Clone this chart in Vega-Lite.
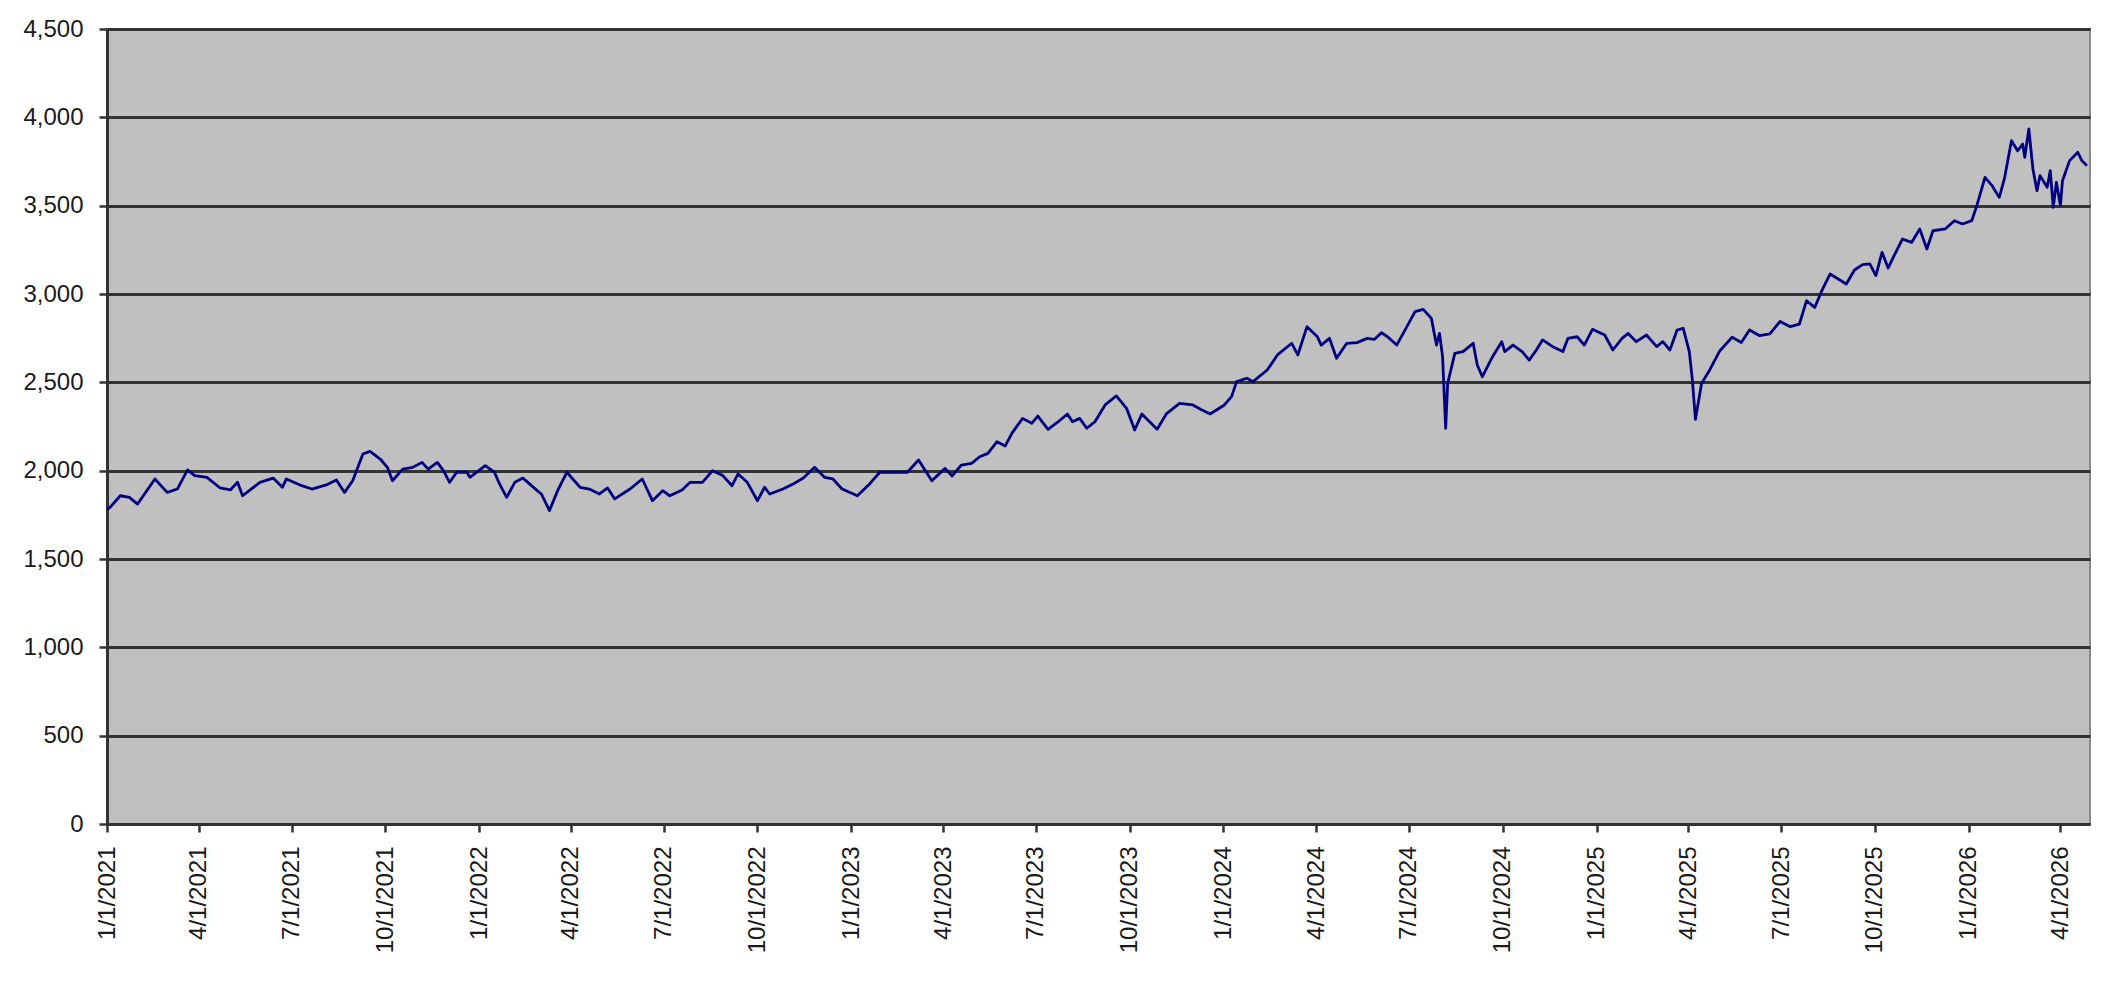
{
  "$schema": "https://vega.github.io/schema/vega-lite/v6.json",
  "width": 1983,
  "height": 795,
  "autosize": "none",
  "padding": {"left": 107, "top": 29, "right": 18, "bottom": 170},
  "background": "white",
  "data": {
    "values": [
      {"d": "2021-01-01", "v": 1780}, {"d": "2021-01-04", "v": 1792}, {"d": "2021-01-14", "v": 1858}, {"d": "2021-01-23", "v": 1849},
      {"d": "2021-01-31", "v": 1811}, {"d": "2021-02-17", "v": 1953}, {"d": "2021-03-01", "v": 1877}, {"d": "2021-03-11", "v": 1896},
      {"d": "2021-03-21", "v": 2004}, {"d": "2021-03-28", "v": 1972}, {"d": "2021-04-09", "v": 1962}, {"d": "2021-04-22", "v": 1902},
      {"d": "2021-05-02", "v": 1891}, {"d": "2021-05-09", "v": 1934}, {"d": "2021-05-14", "v": 1858}, {"d": "2021-05-31", "v": 1934},
      {"d": "2021-06-13", "v": 1958}, {"d": "2021-06-22", "v": 1906}, {"d": "2021-06-26", "v": 1953}, {"d": "2021-07-11", "v": 1915},
      {"d": "2021-07-21", "v": 1896}, {"d": "2021-08-05", "v": 1921}, {"d": "2021-08-14", "v": 1947}, {"d": "2021-08-22", "v": 1877},
      {"d": "2021-08-30", "v": 1943}, {"d": "2021-09-09", "v": 2094}, {"d": "2021-09-16", "v": 2109}, {"d": "2021-09-26", "v": 2066},
      {"d": "2021-10-03", "v": 2019}, {"d": "2021-10-08", "v": 1943}, {"d": "2021-10-18", "v": 2009}, {"d": "2021-10-28", "v": 2019},
      {"d": "2021-11-06", "v": 2047}, {"d": "2021-11-12", "v": 2009}, {"d": "2021-11-21", "v": 2047}, {"d": "2021-11-27", "v": 2000},
      {"d": "2021-12-03", "v": 1934}, {"d": "2021-12-10", "v": 1991}, {"d": "2021-12-20", "v": 1991}, {"d": "2021-12-23", "v": 1962},
      {"d": "2022-01-07", "v": 2028}, {"d": "2022-01-16", "v": 1991}, {"d": "2022-01-21", "v": 1925}, {"d": "2022-01-28", "v": 1849},
      {"d": "2022-02-05", "v": 1934}, {"d": "2022-02-13", "v": 1958}, {"d": "2022-02-27", "v": 1887}, {"d": "2022-03-03", "v": 1868},
      {"d": "2022-03-11", "v": 1774}, {"d": "2022-03-19", "v": 1887}, {"d": "2022-03-28", "v": 1991}, {"d": "2022-04-10", "v": 1906},
      {"d": "2022-04-19", "v": 1896}, {"d": "2022-04-29", "v": 1868}, {"d": "2022-05-07", "v": 1902}, {"d": "2022-05-14", "v": 1840},
      {"d": "2022-05-29", "v": 1896}, {"d": "2022-06-10", "v": 1953}, {"d": "2022-06-20", "v": 1830}, {"d": "2022-06-30", "v": 1887},
      {"d": "2022-07-07", "v": 1858}, {"d": "2022-07-19", "v": 1891}, {"d": "2022-07-27", "v": 1934}, {"d": "2022-08-08", "v": 1934},
      {"d": "2022-08-18", "v": 2000}, {"d": "2022-08-28", "v": 1972}, {"d": "2022-09-06", "v": 1915}, {"d": "2022-09-12", "v": 1981},
      {"d": "2022-09-21", "v": 1934}, {"d": "2022-10-01", "v": 1830}, {"d": "2022-10-08", "v": 1906}, {"d": "2022-10-13", "v": 1868},
      {"d": "2022-10-26", "v": 1896}, {"d": "2022-11-05", "v": 1925}, {"d": "2022-11-15", "v": 1958}, {"d": "2022-11-26", "v": 2019},
      {"d": "2022-12-06", "v": 1962}, {"d": "2022-12-14", "v": 1953}, {"d": "2022-12-23", "v": 1896}, {"d": "2023-01-07", "v": 1858},
      {"d": "2023-01-19", "v": 1925}, {"d": "2023-01-29", "v": 1991}, {"d": "2023-02-11", "v": 1991}, {"d": "2023-02-25", "v": 1991},
      {"d": "2023-03-08", "v": 2060}, {"d": "2023-03-21", "v": 1943}, {"d": "2023-04-03", "v": 2013}, {"d": "2023-04-10", "v": 1970},
      {"d": "2023-04-19", "v": 2032}, {"d": "2023-04-29", "v": 2041}, {"d": "2023-05-07", "v": 2079}, {"d": "2023-05-15", "v": 2098},
      {"d": "2023-05-24", "v": 2164}, {"d": "2023-06-01", "v": 2140}, {"d": "2023-06-08", "v": 2215}, {"d": "2023-06-18", "v": 2296},
      {"d": "2023-06-27", "v": 2268}, {"d": "2023-07-03", "v": 2309}, {"d": "2023-07-13", "v": 2234}, {"d": "2023-07-23", "v": 2277},
      {"d": "2023-08-01", "v": 2321}, {"d": "2023-08-06", "v": 2277}, {"d": "2023-08-13", "v": 2296}, {"d": "2023-08-20", "v": 2240},
      {"d": "2023-08-28", "v": 2277}, {"d": "2023-09-07", "v": 2372}, {"d": "2023-09-18", "v": 2423}, {"d": "2023-09-28", "v": 2353},
      {"d": "2023-10-06", "v": 2230}, {"d": "2023-10-13", "v": 2321}, {"d": "2023-10-28", "v": 2234}, {"d": "2023-11-06", "v": 2321},
      {"d": "2023-11-19", "v": 2381}, {"d": "2023-12-02", "v": 2372}, {"d": "2023-12-11", "v": 2343}, {"d": "2023-12-19", "v": 2321},
      {"d": "2024-01-02", "v": 2372}, {"d": "2024-01-09", "v": 2419}, {"d": "2024-01-14", "v": 2504}, {"d": "2024-01-24", "v": 2523},
      {"d": "2024-01-30", "v": 2504}, {"d": "2024-02-13", "v": 2570}, {"d": "2024-02-23", "v": 2655}, {"d": "2024-03-08", "v": 2721},
      {"d": "2024-03-14", "v": 2655}, {"d": "2024-03-23", "v": 2815}, {"d": "2024-04-02", "v": 2760}, {"d": "2024-04-06", "v": 2711},
      {"d": "2024-04-14", "v": 2749}, {"d": "2024-04-21", "v": 2636}, {"d": "2024-05-01", "v": 2721}, {"d": "2024-05-11", "v": 2725},
      {"d": "2024-05-21", "v": 2749}, {"d": "2024-05-28", "v": 2743}, {"d": "2024-06-04", "v": 2781}, {"d": "2024-06-10", "v": 2758},
      {"d": "2024-06-19", "v": 2711}, {"d": "2024-06-29", "v": 2815}, {"d": "2024-07-07", "v": 2900}, {"d": "2024-07-15", "v": 2913},
      {"d": "2024-07-23", "v": 2862}, {"d": "2024-07-28", "v": 2711}, {"d": "2024-07-31", "v": 2777}, {"d": "2024-08-03", "v": 2645},
      {"d": "2024-08-06", "v": 2240}, {"d": "2024-08-08", "v": 2494}, {"d": "2024-08-15", "v": 2664}, {"d": "2024-08-23", "v": 2674},
      {"d": "2024-09-02", "v": 2721}, {"d": "2024-09-06", "v": 2598}, {"d": "2024-09-11", "v": 2532}, {"d": "2024-09-21", "v": 2645},
      {"d": "2024-09-30", "v": 2730}, {"d": "2024-10-03", "v": 2674}, {"d": "2024-10-11", "v": 2711}, {"d": "2024-10-20", "v": 2674},
      {"d": "2024-10-27", "v": 2626}, {"d": "2024-11-03", "v": 2683}, {"d": "2024-11-09", "v": 2740}, {"d": "2024-11-19", "v": 2702},
      {"d": "2024-11-29", "v": 2674}, {"d": "2024-12-04", "v": 2749}, {"d": "2024-12-13", "v": 2758}, {"d": "2024-12-20", "v": 2711},
      {"d": "2024-12-28", "v": 2800}, {"d": "2025-01-09", "v": 2768}, {"d": "2025-01-17", "v": 2683}, {"d": "2025-01-26", "v": 2749},
      {"d": "2025-02-01", "v": 2777}, {"d": "2025-02-09", "v": 2730}, {"d": "2025-02-19", "v": 2768}, {"d": "2025-03-01", "v": 2702},
      {"d": "2025-03-07", "v": 2730}, {"d": "2025-03-14", "v": 2683}, {"d": "2025-03-21", "v": 2796}, {"d": "2025-03-27", "v": 2806},
      {"d": "2025-04-02", "v": 2674}, {"d": "2025-04-05", "v": 2513}, {"d": "2025-04-08", "v": 2290}, {"d": "2025-04-14", "v": 2494},
      {"d": "2025-04-22", "v": 2570}, {"d": "2025-05-02", "v": 2679}, {"d": "2025-05-14", "v": 2755}, {"d": "2025-05-23", "v": 2726},
      {"d": "2025-05-31", "v": 2796}, {"d": "2025-06-10", "v": 2764}, {"d": "2025-06-20", "v": 2774}, {"d": "2025-06-30", "v": 2845},
      {"d": "2025-07-10", "v": 2815}, {"d": "2025-07-19", "v": 2830}, {"d": "2025-07-26", "v": 2962}, {"d": "2025-08-03", "v": 2924},
      {"d": "2025-08-10", "v": 3019}, {"d": "2025-08-18", "v": 3113}, {"d": "2025-08-26", "v": 3085}, {"d": "2025-09-03", "v": 3057},
      {"d": "2025-09-11", "v": 3136}, {"d": "2025-09-19", "v": 3166}, {"d": "2025-09-26", "v": 3170}, {"d": "2025-10-02", "v": 3104},
      {"d": "2025-10-08", "v": 3236}, {"d": "2025-10-14", "v": 3147}, {"d": "2025-10-19", "v": 3207}, {"d": "2025-10-28", "v": 3311},
      {"d": "2025-11-06", "v": 3292}, {"d": "2025-11-14", "v": 3368}, {"d": "2025-11-21", "v": 3255}, {"d": "2025-11-27", "v": 3358},
      {"d": "2025-12-09", "v": 3368}, {"d": "2025-12-18", "v": 3415}, {"d": "2025-12-26", "v": 3396}, {"d": "2026-01-04", "v": 3415},
      {"d": "2026-01-09", "v": 3500}, {"d": "2026-01-17", "v": 3660}, {"d": "2026-01-24", "v": 3613}, {"d": "2026-01-31", "v": 3547},
      {"d": "2026-02-05", "v": 3651}, {"d": "2026-02-12", "v": 3868}, {"d": "2026-02-18", "v": 3811}, {"d": "2026-02-23", "v": 3849},
      {"d": "2026-02-25", "v": 3774}, {"d": "2026-03-01", "v": 3934}, {"d": "2026-03-05", "v": 3708}, {"d": "2026-03-09", "v": 3585},
      {"d": "2026-03-12", "v": 3670}, {"d": "2026-03-19", "v": 3604}, {"d": "2026-03-22", "v": 3698}, {"d": "2026-03-25", "v": 3490},
      {"d": "2026-03-28", "v": 3632}, {"d": "2026-04-01", "v": 3500}, {"d": "2026-04-03", "v": 3641}, {"d": "2026-04-10", "v": 3755},
      {"d": "2026-04-18", "v": 3802}, {"d": "2026-04-22", "v": 3755}, {"d": "2026-04-27", "v": 3726}
    ]
  },
  "mark": {"type": "line", "color": "#000080", "strokeWidth": 2.8, "strokeJoin": "round"},
  "encoding": {
    "x": {
      "field": "d",
      "type": "temporal",
      "title": null,
      "scale": {
        "type": "utc",
        "nice": false,
        "domain": [
          {"year": 2021, "month": 1, "date": 1, "utc": true},
          {"year": 2026, "month": 4, "date": 30, "utc": true}
        ]
      },
      "axis": {
        "tickCount": {"interval": "month", "step": 3},
        "labelExpr": "utcFormat(datum.value, '%-m/%-d/%Y')",
        "labelAngle": 270,
        "labelPadding": 14,
        "labelOverlap": false,
        "labelFlush": false,
        "grid": false,
        "tickSize": 8,
        "tickWidth": 2.5,
        "tickColor": "#333333",
        "domainColor": "#333333",
        "domainWidth": 3
      }
    },
    "y": {
      "field": "v",
      "type": "quantitative",
      "title": null,
      "scale": {"domain": [0, 4500], "nice": false, "zero": true},
      "axis": {
        "values": [0, 500, 1000, 1500, 2000, 2500, 3000, 3500, 4000, 4500],
        "labelExpr": "format(datum.value, ',.0f')",
        "labelPadding": 16,
        "tickSize": 8,
        "tickWidth": 2.5,
        "tickColor": "#333333",
        "domainColor": "#333333",
        "domainWidth": 3,
        "grid": true,
        "gridColor": "#333333",
        "gridWidth": 3,
        "gridOpacity": 1
      }
    }
  },
  "config": {
    "view": {"fill": "#c0c0c0", "stroke": "#8a8a8a", "strokeWidth": 2},
    "axis": {
      "labelFont": "Liberation Sans",
      "labelFontSize": 24,
      "labelColor": "#1a1a1a"
    }
  }
}
